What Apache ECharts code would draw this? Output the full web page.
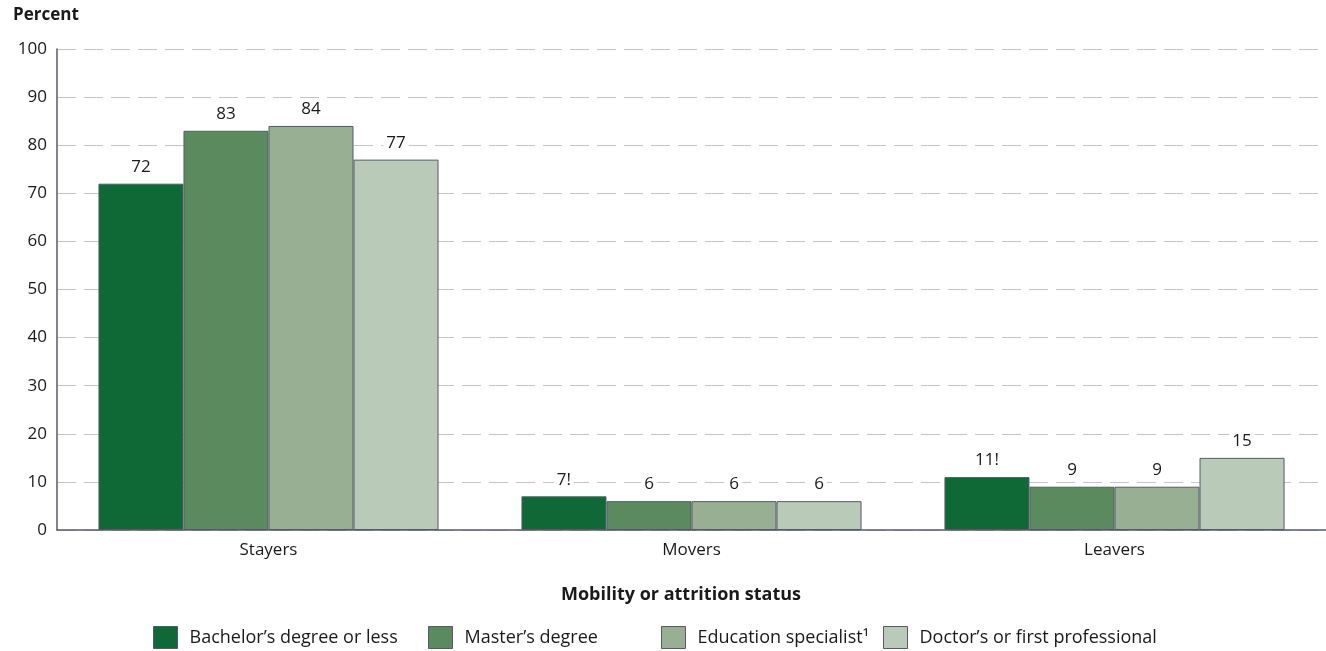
<!DOCTYPE html>
<html>
<head>
<meta charset="utf-8">
<script src="https://cdn.jsdelivr.net/npm/echarts@6/dist/echarts.min.js"></script>
<style>
  html, body { margin: 0; padding: 0; background: #ffffff; }
  #chart { width: 1326px; height: 651px; }
</style>
</head>
<body>
<div id="chart"></div>
<script>
// Mobility or attrition status by highest degree earned
const categories = ['Stayers', 'Movers', 'Leavers'];
const seriesNames = [
  'Bachelor\u2019s degree or less',
  'Master\u2019s degree',
  'Education specialist\u00B9',
  'Doctor\u2019s or first professional'
];
const bachelorValues = [72, 7, 11];
const masterValues = [83, 6, 9];
const specialistValues = [84, 6, 9];
const doctorValues = [77, 6, 15];
// "!" marks estimates to interpret with caution
const bachelorFlags = ['', '!', '!'];
const masterFlags = ['', '', ''];
const specialistFlags = ['', '', ''];
const doctorFlags = ['', '', ''];
const yTicks = [0, 10, 20, 30, 40, 50, 60, 70, 80, 90, 100];

const colors = ['#0f6936', '#5b8a5f', '#98af94', '#bacab8'];
const FONT = '"Open Sans", "Noto Sans", sans-serif';
// left edge of each legend entry
const legendLefts = [153, 428, 661, 883];

const valueSets = [bachelorValues, masterValues, specialistValues, doctorValues];
const flagSets = [bachelorFlags, masterFlags, specialistFlags, doctorFlags];

const series = seriesNames.map((name, i) => ({
  name: name,
  type: 'bar',
  data: valueSets[i],
  barGap: '0%',
  barCategoryGap: '19.6%',
  itemStyle: { color: colors[i], borderColor: '#555b66', borderWidth: 1 },
  label: {
    show: true,
    position: 'top',
    distance: 8,
    color: '#1a1a1a',
    fontFamily: FONT,
    fontSize: 17,
    backgroundColor: '#ffffff',
    padding: [0, 3],
    formatter: p => p.value + flagSets[i][p.dataIndex]
  },
  emphasis: { disabled: true }
}));

const legends = seriesNames.map((name, i) => ({
  data: [name],
  left: legendLefts[i], top: 626,
  padding: 0,
  itemWidth: 24, itemHeight: 22,
  icon: 'rect',
  selectedMode: false,
  itemStyle: { borderColor: '#555b66', borderWidth: 1 },
  textStyle: { fontFamily: FONT, fontSize: 18, color: '#1a1a1a', padding: [0, 0, 0, 7] }
}));

const chart = echarts.init(document.getElementById('chart'), null, { renderer: 'canvas' });
chart.setOption({
  animation: false,
  textStyle: { fontFamily: FONT },
  grid: { left: 57, right: 0, top: 49, bottom: 121, containLabel: false },
  title: [
    {
      text: 'Percent', left: 13, top: 7, padding: 0,
      textStyle: { fontFamily: FONT, fontSize: 17, fontWeight: 'bold', color: '#1a1a1a' }
    },
    {
      text: 'Mobility or attrition status', left: 681, top: 586, textAlign: 'center', padding: 0,
      textStyle: { fontFamily: FONT, fontSize: 18, fontWeight: 'bold', color: '#1a1a1a' }
    }
  ],
  legend: legends,
  xAxis: {
    type: 'category',
    data: categories,
    axisLine: { lineStyle: { color: '#555b6a', width: 1.5 } },
    axisTick: { show: false },
    axisLabel: { fontFamily: FONT, fontSize: 17, color: '#1a1a1a', margin: 12 }
  },
  yAxis: {
    type: 'value',
    min: yTicks[0], max: yTicks[yTicks.length - 1], interval: 10,
    axisLine: { show: true, lineStyle: { color: '#555b6a', width: 1.5 } },
    axisTick: { show: false },
    axisLabel: { fontFamily: FONT, fontSize: 17, color: '#1a1a1a', margin: 10 },
    splitLine: { lineStyle: { color: '#c4c4c8', width: 1, type: [19, 8] } }
  },
  series: series
});
</script>
</body>
</html>
